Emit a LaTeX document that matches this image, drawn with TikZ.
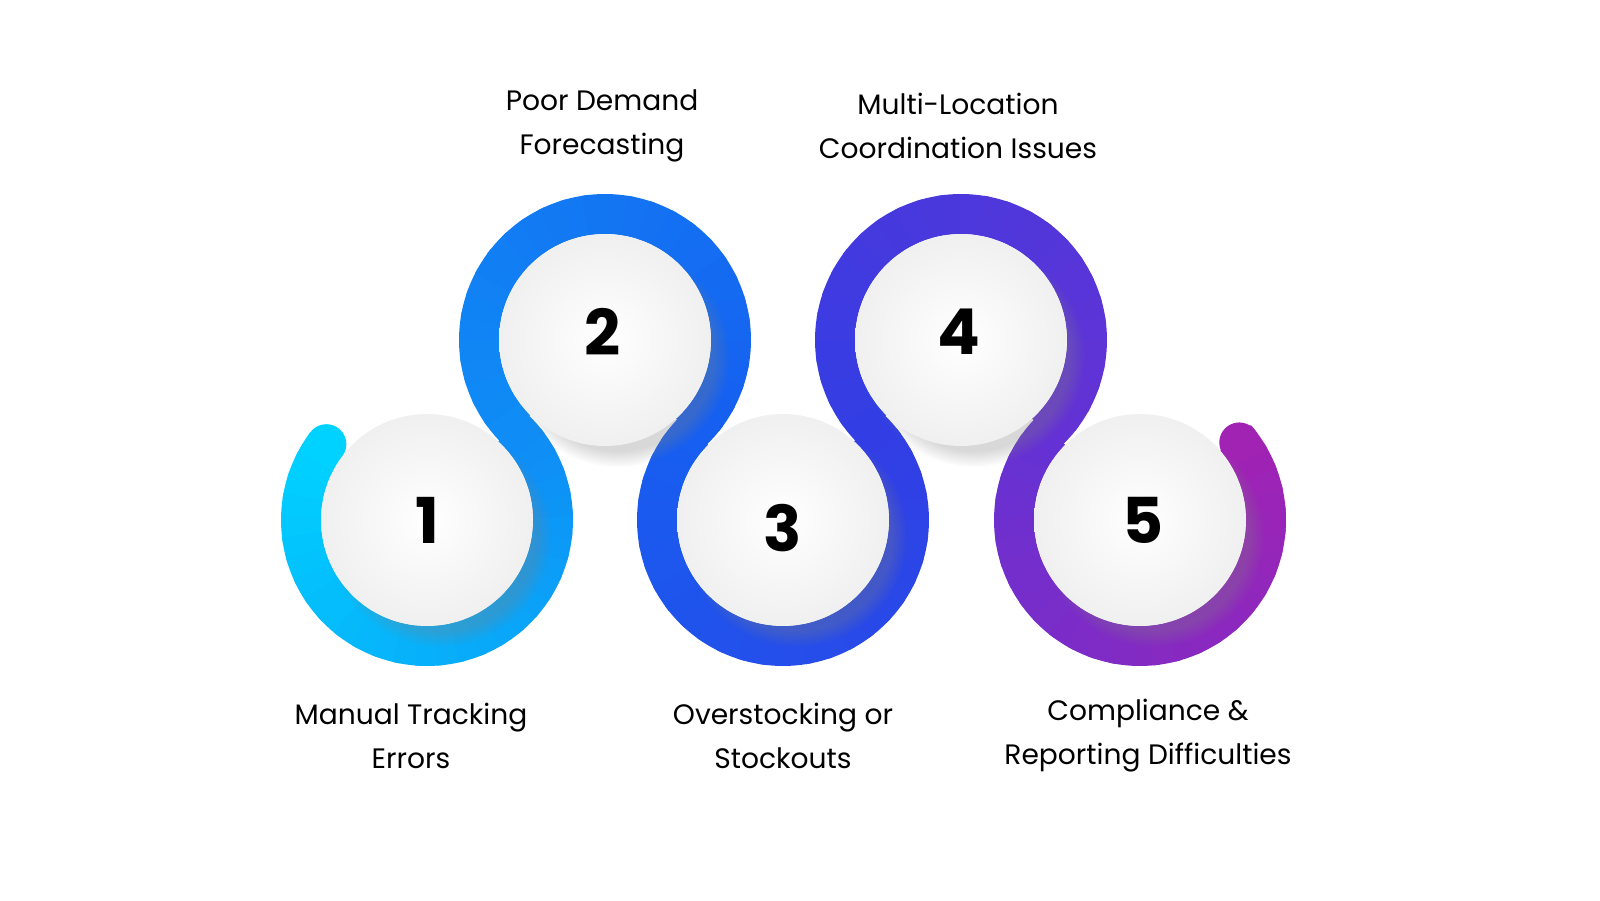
\documentclass[tikz,border=0pt]{standalone}
\usepackage{fontspec}
\setmainfont{Poppins}
\usetikzlibrary{shadows,calc}
\definecolor{c0}{RGB}{0,210,255}
\definecolor{c1}{RGB}{15,140,245}
\definecolor{c2}{RGB}{22,95,240}
\definecolor{c3}{RGB}{50,62,228}
\definecolor{c4}{RGB}{100,50,212}
\definecolor{c5}{RGB}{160,35,180}
\tikzset{
  ball/.style={circle,minimum size=4.24cm,inner sep=0pt,shading=radial,
    inner color=white,outer color=gray!12,
    circular drop shadow={shadow xshift=0.25cm,shadow yshift=-0.3cm,shadow scale=1.05,opacity=0.3}},
  num/.style={font=\fontsize{36}{40}\selectfont\bfseries,text=black},
  lbl/.style={font=\fontsize{16}{25}\selectfont,align=center,text=black}
}
\newcommand{\ringarc}[5]{% center, start, end, colA, colB
  \pgfmathsetmacro{\sa}{#2}\pgfmathsetmacro{\ea}{#3}
  \foreach \i in {0,...,29}{
    \pgfmathsetmacro{\aa}{\sa+(\ea-\sa)*\i/30}
    \pgfmathsetmacro{\bb}{\sa+(\ea-\sa)*(\i+1.3)/30}
    \pgfmathtruncatemacro{\pc}{100-100*\i/29}
    \draw[line width=0.8cm,color=#4!\pc!#5] ($(#1)+(\aa:2.52cm)$) arc (\aa:\bb:2.52cm);
  }}
\begin{document}
\begin{tikzpicture}[x=0.02cm,y=0.02cm]
\useasboundingbox[fill=white] (0,0) rectangle (1600,900);
\coordinate (p1) at (427,380);
\coordinate (p2) at (605,560);
\coordinate (p3) at (783,380);
\coordinate (p4) at (961,560);
\coordinate (p5) at (1140,380);
\ringarc{p1}{143}{405}{c0}{c1}
\ringarc{p2}{225}{-45}{c1}{c2}
\ringarc{p3}{135}{405}{c2}{c3}
\ringarc{p4}{225}{-45}{c3}{c4}
\ringarc{p5}{135}{398}{c4}{c5}
\fill[c0] ($(p1)+(143:2.52cm)$) circle (0.4cm);
\fill[c5] ($(p5)+(38:2.52cm)$) circle (0.4cm);
\node[ball] (b1) at (p1) {};
\node[ball] (b2) at (p2) {};
\node[ball] (b3) at (p3) {};
\node[ball] (b4) at (p4) {};
\node[ball] (b5) at (p5) {};
\node[num] (n1) at (427,380) {1};
\node[num] (n2) at (603,568) {2};
\node[num] (n3) at (783,372) {3};
\node[num] (n4) at (959,568) {4};
\node[num] (n5) at (1143,380) {5};
\node[lbl] (l1) at (411,164) {Manual Tracking\\Errors};
\node[lbl] (l2) at (602,774) {Poor Demand\\Forecasting};
\node[lbl] (l3) at (783,164) {Overstocking or\\Stockouts};
\node[lbl] (l4) at (958,774) {Multi-Location\\Coordination Issues};
\node[lbl] (l5) at (1148,164) {Compliance \&\\Reporting Difficulties};
\end{tikzpicture}
\end{document}
